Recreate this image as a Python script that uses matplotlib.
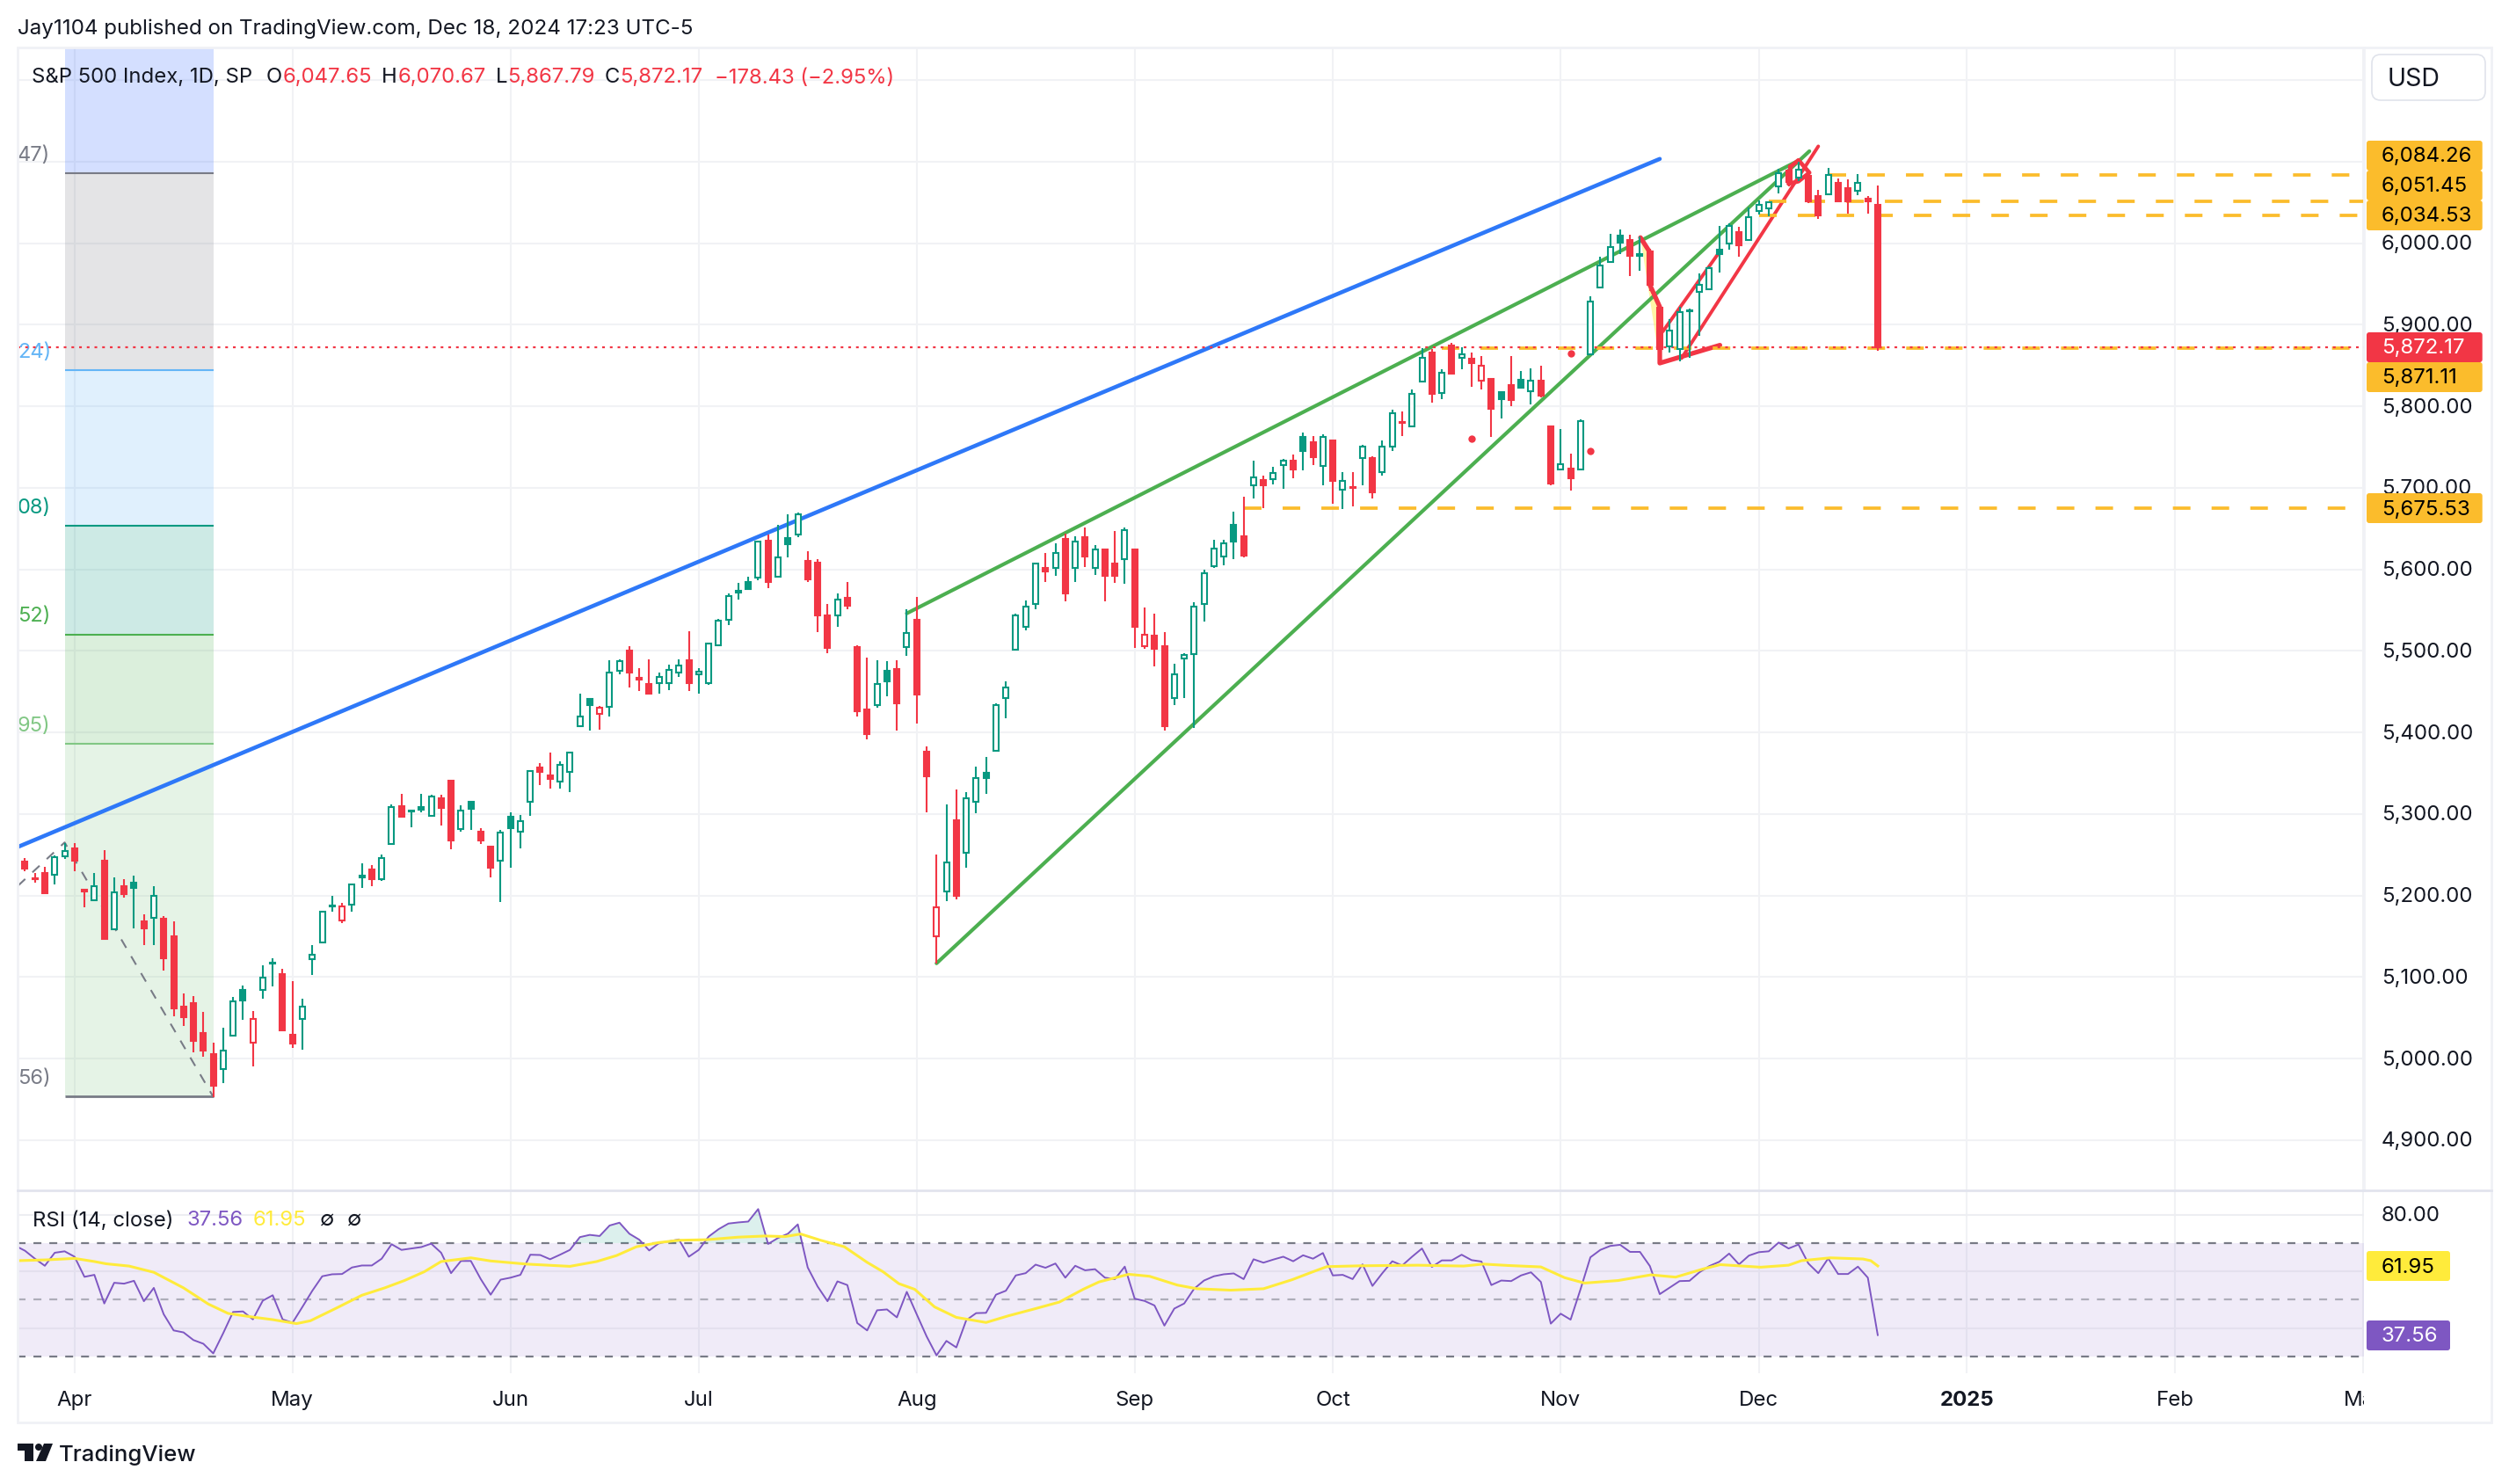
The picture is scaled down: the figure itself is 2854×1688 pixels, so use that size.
import numpy as np
import matplotlib
matplotlib.use('Agg')
import matplotlib.pyplot as plt
from matplotlib.patches import FancyBboxPatch, Polygon, Rectangle, Circle

plt.rcParams['font.family'] = ['Inter', 'DejaVu Sans']
plt.rcParams['lines.scale_dashes'] = False

W, H = 2854, 1688
GREEN, RED = '#089981', '#F23645'
ORANGE = '#FBBC2C'
PURPLE, YELLOW = '#7E57C2', '#FFEB3B'
INK = '#131722'
GRID = '#F1F2F5'

# daily candles, first one is bar -6 (bar 0 = Apr 1 2024)
first_bar = -6
opens = [5241,5242,5221,5228,5225,5248,5258,5207,5194,5243,5158,5211,5216,5168,5172,5171,5150,5064,5068,5031,
 5005,4987,5028,5084,5019,5084,5116,5103,5029,5049,5122,5142,5187,5169,5189,5222,5232,5220,5263,5310,
 5303,5308,5298,5319,5341,5281,5315,5278,5260,5243,5297,5278,5315,5357,5347,5340,5352,5408,5441,5423,
 5431,5476,5500,5467,5459,5460,5460,5473,5488,5471,5461,5507,5538,5572,5584,5590,5635,5591,5638,5643,
 5610,5608,5543,5544,5565,5505,5428,5433,5476,5478,5505,5538,5376,5150,5205,5292,5252,5315,5351,5377,
 5442,5501,5530,5557,5602,5602,5637,5602,5640,5602,5624,5607,5612,5624,5506,5519,5506,5442,5491,5496,
 5557,5604,5616,5655,5641,5703,5710,5711,5728,5733,5762,5756,5727,5758,5698,5701,5737,5737,5719,5751,
 5781,5775,5830,5866,5816,5875,5859,5858,5832,5834,5817,5826,5833,5819,5832,5775,5723,5724,5722,5864,
 5946,5977,6009,6004,5985,5990,5921,5874,5870,5918,5940,5944,5992,6000,6014,6004,6040,6043,6070,6089,
 6081,6083,6058,6060,6074,6068,6064,6055,6047.65]
highs = [5254,5246,5228,5235,5249,5264,5264,5208,5228,5256,5222,5220,5224,5177,5211,5175,5168,5080,5077,5057,
 5019,5038,5076,5089,5058,5114,5123,5110,5095,5073,5139,5180,5200,5191,5215,5239,5237,5250,5312,5325,
 5305,5325,5324,5323,5342,5311,5316,5282,5260,5280,5302,5299,5354,5362,5375,5365,5376,5447,5441,5432,
 5488,5490,5506,5479,5490,5473,5483,5490,5524,5479,5510,5539,5570,5583,5591,5635,5643,5655,5668,5670,
 5622,5613,5558,5570,5585,5507,5492,5488,5487,5489,5551,5566,5383,5250,5312,5330,5327,5358,5370,5436,
 5463,5546,5562,5608,5620,5632,5644,5641,5651,5630,5626,5647,5651,5624,5553,5546,5523,5484,5497,5560,
 5600,5636,5636,5671,5689,5733,5715,5726,5736,5741,5768,5763,5766,5758,5719,5719,5753,5739,5758,5796,
 5794,5821,5871,5870,5846,5878,5872,5866,5862,5834,5817,5862,5843,5847,5850,5775,5772,5742,5784,5935,
 5983,6012,6017,6010,6008,5993,5922,5907,5922,5920,5963,5972,6021,6024,6020,6044,6053,6052,6091,6095,
 6100,6088,6066,6092,6079,6078,6085,6058,6070.67]
lows = [5240,5230,5216,5203,5213,5245,5230,5185,5194,5146,5158,5197,5160,5139,5139,5108,5052,5040,5008,5002,
 4953,4970,5028,5047,4990,5073,5088,5034,5013,5011,5102,5141,5180,5166,5180,5209,5211,5218,5262,5297,
 5284,5302,5298,5286,5257,5278,5280,5263,5222,5192,5234,5258,5298,5335,5331,5331,5327,5408,5402,5403,
 5420,5471,5455,5451,5447,5447,5452,5468,5451,5447,5458,5507,5532,5563,5575,5587,5577,5590,5615,5640,
 5585,5523,5497,5530,5551,5420,5391,5430,5444,5402,5494,5411,5302,5116,5193,5195,5234,5301,5325,5377,
 5417,5501,5525,5551,5585,5592,5561,5585,5603,5593,5561,5583,5582,5504,5503,5481,5402,5434,5442,5406,
 5536,5602,5605,5613,5615,5687,5675,5704,5699,5712,5721,5728,5703,5681,5674,5677,5703,5687,5715,5745,
 5764,5775,5829,5804,5809,5840,5846,5824,5821,5762,5785,5800,5823,5802,5811,5703,5723,5697,5722,5864,
 5946,5976,5987,5960,5966,5942,5853,5866,5855,5860,5887,5944,5964,5992,5984,6003,6035,6033,6061,6070,
 6076,6049,6030,6060,6051,6036,6059,6036,5867.79]
closes = [5253,5233,5220,5203,5247,5254,5243,5205,5211,5147,5204,5202,5209,5160,5199,5123,5061,5051,5022,5010,
 4967,5010,5070,5071,5048,5099,5117,5035,5018,5064,5127,5180,5188,5187,5214,5224,5220,5246,5308,5297,
 5304,5305,5321,5307,5267,5304,5306,5267,5234,5277,5283,5291,5353,5352,5343,5360,5375,5420,5433,5430,
 5473,5487,5473,5465,5447,5468,5477,5482,5460,5475,5509,5537,5567,5573.5,5576,5634,5584,5615,5631,5667,
 5588,5544,5504,5563,5555,5426,5398,5459,5463,5436,5522,5446,5346,5186,5240,5199,5319,5344,5344,5434,
 5455,5543,5554,5607,5597,5620,5570,5634,5616,5624,5592,5592,5648,5529,5520,5503,5408,5471,5495,5554,
 5595,5626,5632,5634,5617,5713,5703,5718,5733,5722,5745,5738,5762,5708,5709,5700,5751,5695,5751,5792,
 5780,5815,5859,5815,5841,5840,5864,5853,5850,5797,5809,5808,5823,5832,5813,5705,5729,5712,5782,5929,
 5973,5995,6001,5985,5987,5949,5870,5893,5916,5917,5949,5969,5987,6021,5998,6032,6047,6050,6086,6075,
 6090,6052,6034,6084,6051,6051,6074,6052,5872.17]
# bars drawn red (all others green)
red_bars = [-5,-4,-3,0,1,3,5,7,9,10,11,12,13,14,18,21,22,27,30,33,37,38,41,42,47,48,53,56,57,58,62,70,74,75,76,78,
 79,80,83,85,86,87,89,98,100,102,104,105,107,108,109,110,118,120,123,125,127,129,131,134,137,139,141,142,143,145,
 148,149,151,157,159,160,168,173,175,176,178,179,181,182]

# indicator
rsi = [69.1,67.3,64.5,62.0,66.6,67.1,65.2,58.1,58.8,48.7,56.0,55.7,56.7,49.5,54.2,44.9,39.2,38.5,35.8,34.5,31.1,
 38.2,45.7,45.9,43.1,49.7,51.6,43.1,41.9,47.5,53.2,58.3,59.0,59.1,61.4,62.1,62.1,64.5,69.6,67.6,68.1,68.6,69.8,
 66.6,59.4,63.7,63.7,57.3,51.8,57.1,57.8,58.8,65.9,65.8,64.3,65.9,67.6,72.1,72.9,72.5,76.2,77.2,73.3,71.2,67.4,
 70.0,70.6,71.3,65.2,67.6,72.3,74.9,76.9,77.3,77.6,82.0,69.7,71.8,73.3,76.6,61.4,54.7,49.5,56.5,55.2,41.8,39.2,
 46.3,46.6,43.8,52.8,44.9,37.1,30.4,35.5,33.2,42.8,45.3,45.4,51.8,53.2,58.6,59.4,62.4,61.3,62.8,57.8,62.0,60.4,
 60.8,57.8,57.3,61.7,50.4,49.6,48.0,40.9,46.9,48.7,53.9,56.8,58.3,59.0,59.3,57.3,64.3,63.1,64.2,65.2,63.6,65.7,
 64.5,66.5,58.6,58.8,57.3,62.5,54.9,59.4,63.6,62.1,65.2,68.1,61.6,63.9,63.9,65.9,64.0,63.5,55.2,56.8,56.6,58.6,
 59.7,56.3,41.6,45.1,43.0,53.7,65.0,67.6,69.0,69.4,66.9,66.9,61.9,52.0,54.3,56.6,56.7,59.7,61.9,63.4,66.3,62.5,
 65.6,66.8,67.1,70.2,68.1,69.5,62.8,59.4,64.6,59.1,59.1,61.7,57.8,37.56]
ma_bars = [-5.7,-2.8,0,2,3.2,5.5,8,11,13.5,15.5,18,20,22.4,23.8,26.5,29,31.3,33.3,35.3,37,40,42,45.6,50,52.7,54.7,
 56.7,59,61,63.8,67,69.7,71.7,73.3,75.3,77.7,80,81.6,83.2,84.8,86.8,89,92,94.3,97,99.4,101.8,103.4,106.4,108.5,
 111.3,113.3,116.7,120,122.9,125,126.4,129.9,135.6,140.2,142.2,144.7,148,150.4,152.4,155.8,159.1,161.6,164.4,
 166.1,170.2,173,174.3,177.2,180.5,181.3,182]
ma_vals = [63.8,64.1,64.6,63.5,62.7,61.9,59.7,54.2,48.5,45.2,43.9,43.0,41.6,42.6,47.2,51.6,54.2,56.8,59.9,63.5,64.8,
 63.7,62.6,61.8,63.5,65.6,68.7,70.2,71.0,71.2,72.1,72.5,72.3,73.2,71.0,68.7,63.2,59.9,55.7,53.7,47.5,43.8,42.0,
 44.4,46.9,49.2,53.7,56.3,59.0,58.3,55.2,53.9,53.4,53.9,57.1,59.9,61.7,62.0,62.2,61.9,62.6,62.1,61.6,57.8,55.9,
 56.8,58.8,58.0,60.9,62.4,61.5,62.2,63.8,64.8,64.4,63.8,61.95]

month_bars = [0,22,44,63,85,107,127,150,170,191,212,231]
month_labels = ['Apr','May','Jun','Jul','Aug','Sep','Oct','Nov','Dec','2025','Feb','Mar']
price_ticks = list(range(4900, 6300, 100))
price_labels_shown = list(range(4900, 6100, 100))

# fib retracement drawing
fib_bars = [-1, 14]
fib_levels = [4953.56, 5386, 5520, 5653, 5844, 6086, 6786]
fib_colors = ['#81C784','#4CAF50','#089981','#64B5F6','#787B86','#2962FF']
fib_line_colors = ['#787B86','#81C784','#4CAF50','#089981','#64B5F6','#787B86']
fib_text = ['56)','95)','52)','08)','24)','47)']
fib_zig_x = [-5.7,-1,14]
fib_zig_y = [5212,5265,4953]

# hand drawn lines (bar, price)
blue_line = ([-5.7,160],[5259.6,6103.5])
green_top = ([84,174],[5546,6101.4])
green_low = ([87,175.1],[5116.7,6113])
red_brush = ([158.05,159,159,160,160,166.07],[6007,5989,5949,5922,5853,5875])
red_upper = ([160.3,166],[5891.7,5989])
red_lower = ([162.2,176],[5859,6119])
red_loop = ([173.2,174,175.1,174,173,173.2],[6094,6102,6086.6,6076,6073,6094])
red_dots = ([141,151,153],[5760.6,5865,5744.7])
hlines_start = [177,171,170,138,118]
hlines_val = [6084.26,6051.45,6034.53,5871.11,5675.53]
last_close = 5872.17

rsi_hi, rsi_mid, rsi_lo = 70, 50, 30


def pane(x0, y0, x1, y1):
    return plt.gcf().add_axes([x0/W, 1-y1/H, (x1-x0)/W, (y1-y0)/H])


fig = plt.figure(figsize=(W/100, H/100), dpi=100, facecolor='white')
PL, PR = 20, 2689
xlim = ((PL-84.8)/11.27, (PR-84.8)/11.27)

# ---- main pane
ax = pane(PL, 54, PR, 1354)
ax.set_xlim(xlim)
ax.set_ylim(4838.2, 6240.2)
ax.axis('off')
for p in price_ticks:
    ax.axhline(p, color=GRID, lw=1.5, zorder=1)
for m in month_bars:
    ax.axvline(m, color=GRID, lw=1.5, zorder=1)

for i, c in enumerate(fib_colors):
    ax.fill_between(fib_bars, fib_levels[i], fib_levels[i+1], color=c, alpha=0.2, lw=0, zorder=2)
for i, c in enumerate(fib_line_colors):
    ax.plot(fib_bars, [fib_levels[i]]*2, color=c, lw=2.0 if i == 0 else 1.5, solid_capstyle='butt', zorder=2.5)
    ax.text(xlim[0], fib_levels[i]+22, fib_text[i], color=c, fontsize=17, va='center', ha='left', zorder=2.5)
ax.plot(fib_zig_x, fib_zig_y, color='#787B86', lw=1.5, ls=(0, (8, 8)), zorder=2.5)

ax.plot(*blue_line, color='#2E78F8', lw=3.3, solid_capstyle='round', zorder=3)
for x, y in (green_top, green_low):
    ax.plot(x, y, color='#4CAF50', lw=3.0, solid_capstyle='round', zorder=3)

# harmonic fill + brush
ax.fill(red_brush[0][:5], red_brush[1][:5], color=YELLOW, alpha=0.45, lw=0, zorder=2.8)
ax.plot(*red_brush, color=RED, lw=3.8, solid_capstyle='round', solid_joinstyle='round', zorder=3)
ax.plot(*red_upper, color=RED, lw=2.8, solid_capstyle='round', zorder=3)
ax.plot(*red_lower, color=RED, lw=2.8, solid_capstyle='round', zorder=3)
ax.plot(*red_loop, color=RED, lw=3.4, solid_joinstyle='round', zorder=3)
ax.scatter(*red_dots, s=36, color=RED, lw=0, zorder=3)

for s, v in zip(hlines_start, hlines_val):
    ax.plot([s, xlim[1]], [v, v], color=ORANGE, lw=2.7, ls=(0, (14.4, 17.3)), dash_capstyle='butt', zorder=3.2)
ax.axhline(last_close, color=RED, lw=1.6, ls=(0, (2.2, 4.1)), dash_capstyle='butt', zorder=3.5)

# candles: hollow when close>open
bars = np.arange(len(opens)) + first_bar
for b, o, h, l, c in zip(bars, opens, highs, lows, closes):
    color = RED if b in red_bars else GREEN
    top, bot = max(o, c), min(o, c)
    ax.vlines(b, top, h, color=color, lw=1.5, zorder=5)
    ax.vlines(b, l, bot, color=color, lw=1.5, zorder=5)
    ax.bar(b, top-bot, bottom=bot, width=6/11.27, facecolor='white' if c > o else color,
           edgecolor=color, lw=1.5, zorder=5)

# ---- rsi pane
ar = pane(PL, 1354, PR, 1562)
ar.set_xlim(xlim)
ar.set_ylim(24.1, 88.6)
ar.axis('off')
for m in month_bars:
    ar.axvline(m, color=GRID, lw=1.5, zorder=1)
ar.axhspan(rsi_lo, rsi_hi, color=PURPLE, alpha=0.115, lw=0, zorder=1.5)
for v in (80, 60, 40):
    ar.axhline(v, color='#EDEEF2' if v == 80 else '#E4E0EE', lw=1.5, zorder=1.6)
ar.axhline(rsi_hi, color='#787B86', lw=1.6, ls=(0, (6.5, 6.5)), zorder=2)
ar.axhline(rsi_lo, color='#787B86', lw=1.6, ls=(0, (6.5, 6.5)), zorder=2)
ar.axhline(rsi_mid, color='#787B86', lw=1.6, ls=(0, (6.5, 6.5)), alpha=0.55, zorder=2)
rsi_arr = np.array(rsi)
ar.fill_between(bars, rsi_arr, rsi_hi, where=rsi_arr > rsi_hi, interpolate=True,
                color=GREEN, alpha=0.14, lw=0, zorder=2.2)
ar.plot(bars, rsi, color=PURPLE, lw=1.4, zorder=3)
ar.plot(ma_bars, ma_vals, color=YELLOW, lw=2.2, zorder=3.1)

# ---- time axis (clips the last label)
at = pane(PL, 1562, PR, 1618)
at.set_xlim(xlim)
at.set_ylim(1618, 1562)
at.axis('off')
for m, s in zip(month_bars, month_labels):
    at.text(m, 1593, s, ha='center', va='center', color=INK, fontsize=17.3, clip_on=True,
            fontweight='bold' if s == '2025' else 'normal')

# ---- frame, scale, header on a full figure layer
ov = fig.add_axes([0, 0, 1, 1], facecolor='none')
ov.set_xlim(0, W)
ov.set_ylim(H, 0)
ov.axis('off')
FRAME = '#F0F1F6'
ov.add_patch(Rectangle((20, 54), 2814, 1564, fill=False, ec=FRAME, lw=2.0))
ov.plot([PR, PR], [54, 1354], color=FRAME, lw=2.0)
ov.plot([20, 2834], [1354, 1354], color='#E2E4EE', lw=2.0)

ov.text(20, 33, 'Jay1104 published on TradingView.com, Dec 18, 2024 17:23 UTC-5', color=INK,
        fontsize=17.4, va='center')
head_parts = [(36.5, 'S&P 500 Index, 1D, SP', INK), (303, 'O', INK), (322, '6,047.65', RED), (434, 'H', INK),
              (452.6, '6,070.67', RED), (563.5, 'L', INK), (577, '5,867.79', RED), (688, 'C', INK),
              (705, '5,872.17', RED), (812.6, '\u2212178.43 (\u22122.95%)', RED)]
for x, s, c in head_parts:
    ov.text(x, 88.5, s, color=c, fontsize=17.2, va='center')

rsi_parts = [(36.6, 'RSI (14, close)', INK), (212.5, '37.56', PURPLE), (287.5, '61.95', YELLOW),
             (364, '\u2205', INK), (395, '\u2205', INK)]
for x, s, c in rsi_parts:
    ov.text(x, 1388.5, s, color=c, fontsize=17.2, va='center')

ov.add_patch(FancyBboxPatch((2698, 62), 129, 52, boxstyle='round,pad=0,rounding_size=10',
                            fc='white', ec='#E0E3EB', lw=1.2))
ov.text(2716, 90, 'USD', color=INK, fontsize=20.5, va='center')

# price scale labels
for p in price_labels_shown:
    y = 276.7 + (6000-p)*0.9273
    ov.text(2709, y+1.5, f'{p:,.2f}', color=INK, fontsize=17.3, va='center', zorder=2)
ov.text(2709, 1383, '80.00', color=INK, fontsize=17.3, va='center')

tags = [(160, 194, '6,084.26', ORANGE, 'black', 2823.7), (194, 228, '6,051.45', ORANGE, 'black', 2823.7),
        (228, 262, '6,034.53', ORANGE, 'black', 2823.7), (378, 412, '5,872.17', RED, 'white', 2823.7),
        (412, 446, '5,871.11', ORANGE, 'black', 2823.7), (561, 595, '5,675.53', ORANGE, 'black', 2823.7),
        (1423, 1457, '61.95', YELLOW, 'black', 2787), (1502, 1536, '37.56', PURPLE, 'white', 2787)]
for y0, y1, s, fc, tc, xr in tags:
    ov.add_patch(FancyBboxPatch((2692, y0), xr-2692, y1-y0, boxstyle='round,pad=0,rounding_size=3',
                                fc=fc, ec='none', zorder=3))
    ov.text(2709, (y0+y1)/2+1.5, s, color=tc, fontsize=17.3, va='center', zorder=4)

# logo
LOGO = '#131722'
ov.add_patch(Polygon([(20, 1642), (38, 1642), (38, 1662), (28, 1662), (28, 1650), (20, 1650)], fc=LOGO, ec='none'))
ov.add_patch(Circle((44, 1646), 4, fc=LOGO, ec='none'))
ov.add_patch(Polygon([(50, 1642), (60, 1642), (52, 1662), (41, 1662)], fc=LOGO, ec='none'))
ov.text(67, 1655, 'TradingView', color=LOGO, fontsize=18.5, fontweight='medium', va='center')

fig.savefig('out.png', dpi=100)
